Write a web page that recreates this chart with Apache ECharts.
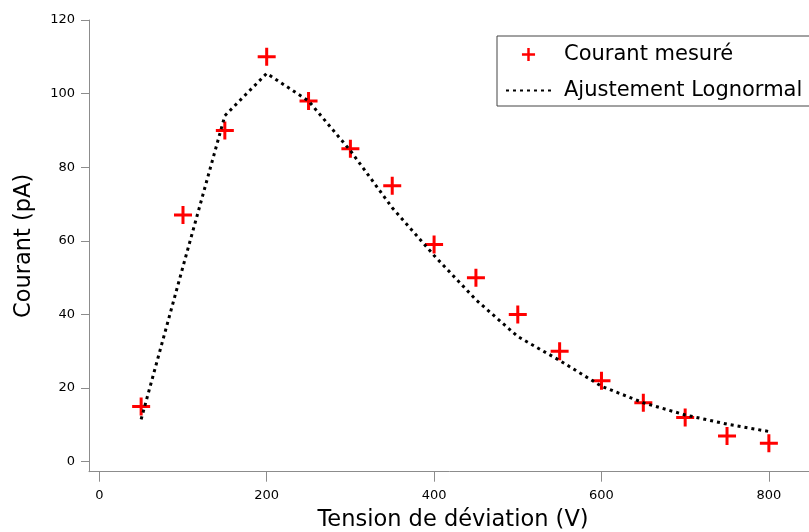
<!DOCTYPE html>
<html>
<head>
<meta charset="utf-8">
<script src="https://cdn.jsdelivr.net/npm/echarts@6/dist/echarts.min.js"></script>
<style>
  html, body { margin: 0; padding: 0; background: #fff; }
  #chart { width: 809px; height: 532px; }
</style>
</head>
<body>
<div id="chart"></div>
<script>
// Measured points (V, pA)
const voltages = [50, 100, 150, 200, 250, 300, 350, 400, 450, 500, 550, 600, 650, 700, 750, 800];
const measured = [15, 67, 90, 110, 98, 85, 75, 59, 50, 40, 30, 22, 16, 12, 7, 5];
// Lognormal fit, sampled at the same voltages
const fitted = [11.5, 53, 94, 105.5, 98, 84.5, 69, 56, 44, 34, 27.5, 20.5, 16, 12.7, 10.2, 8.2];
const xTicks = [0, 200, 400, 600, 800];
const yTicks = [0, 20, 40, 60, 80, 100, 120];

const FONT = 'DejaVu Sans';
const AXIS_GREY = '#8c8c8c';
const CROSS = 'path://M0,7.5H18V10.5H0Z M7.5,0H10.5V18H7.5Z';
// same cross with empty margin so the legend draws it smaller
const CROSS_SMALL = 'path://M0,0 M22,22 M3,9.5H19V12.5H3Z M9.5,3H12.5V19H9.5Z';

const chart = echarts.init(document.getElementById('chart'));

chart.setOption({
    backgroundColor: '#fff',
    animation: false,
    textStyle: { fontFamily: FONT },
    grid: { left: 89, top: 20, width: 728, height: 451.7, outerBoundsMode: 'none', containLabel: false },
    legend: {
        orient: 'vertical',
        left: 497,
        top: 36,
        padding: [8, 20, 5, 8],
        itemWidth: 45,
        itemHeight: 18,
        itemGap: 15,
        borderColor: '#444',
        borderWidth: 1,
        textStyle: { fontFamily: FONT, fontSize: 21, color: '#000', padding: [0, 0, 0, 8] },
        data: [
            { name: 'Courant mesuré', icon: CROSS_SMALL },
            { name: 'Ajustement Lognormal', itemStyle: { color: 'rgba(0,0,0,0)', borderWidth: 0 } }
        ]
    },
    xAxis: {
        type: 'value',
        min: -12.3,
        max: 857.5,
        name: 'Tension de déviation (V)',
        nameLocation: 'middle',
        nameGap: 37,
        nameTextStyle: { fontFamily: FONT, fontSize: 22.5, color: '#000' },
        axisLine: { onZero: false, lineStyle: { color: AXIS_GREY } },
        axisTick: { inside: false, length: 10, customValues: xTicks, lineStyle: { color: AXIS_GREY } },
        axisLabel: { customValues: xTicks, margin: 17, fontSize: 13, color: '#000' },
        splitLine: { show: false }
    },
    yAxis: {
        type: 'value',
        min: -2.72,
        max: 120,
        name: 'Courant (pA)',
        nameLocation: 'middle',
        nameGap: 53,
        nameTextStyle: { fontFamily: FONT, fontSize: 22.5, color: '#000' },
        axisLine: { show: true, onZero: false, lineStyle: { color: AXIS_GREY } },
        axisTick: { show: true, length: 8, customValues: yTicks, lineStyle: { color: AXIS_GREY } },
        axisLabel: { customValues: yTicks, margin: 14, fontSize: 13, color: '#000' },
        splitLine: { show: false }
    },
    series: [
        {
            name: 'Courant mesuré',
            type: 'scatter',
            symbol: CROSS,
            symbolSize: 18,
            symbolKeepAspect: true,
            itemStyle: { color: '#ff0000', opacity: 1 },
            data: voltages.map((v, i) => [v, measured[i]]),
            z: 3
        },
        {
            name: 'Ajustement Lognormal',
            type: 'line',
            symbol: 'none',
            lineStyle: { color: '#000', width: 3, type: [3, 4] },
            itemStyle: { color: '#000' },
            data: voltages.map((v, i) => [v, fitted[i]]),
            z: 4
        }
    ]
});
</script>
</body>
</html>
